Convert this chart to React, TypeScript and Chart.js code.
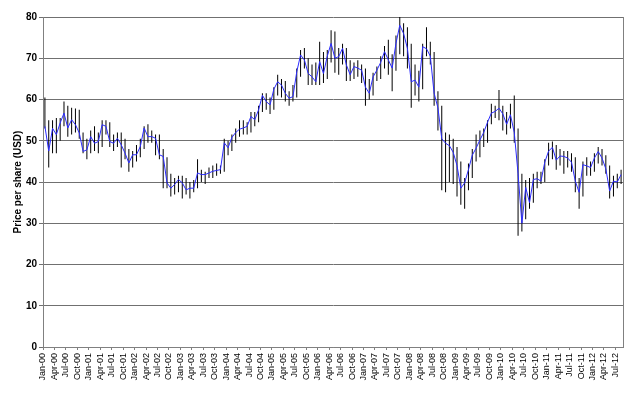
import React, { useEffect, useRef } from "react";
import { Chart, registerables } from "chart.js";

Chart.register(...registerables);

const tickLabels = [
  "Jan-00", "Apr-00", "Jul-00", "Oct-00",
  "Jan-01", "Apr-01", "Jul-01", "Oct-01",
  "Jan-02", "Apr-02", "Jul-02", "Oct-02",
  "Jan-03", "Apr-03", "Jul-03", "Oct-03",
  "Jan-04", "Apr-04", "Jul-04", "Oct-04",
  "Jan-05", "Apr-05", "Jul-05", "Oct-05",
  "Jan-06", "Apr-06", "Jul-06", "Oct-06",
  "Jan-07", "Apr-07", "Jul-07", "Oct-07",
  "Jan-08", "Apr-08", "Jul-08", "Oct-08",
  "Jan-09", "Apr-09", "Jul-09", "Oct-09",
  "Jan-10", "Apr-10", "Jul-10", "Oct-10",
  "Jan-11", "Apr-11", "Jul-11", "Oct-11",
  "Jan-12", "Apr-12", "Jul-12",
];

// Monthly values, Jan-00 .. Aug-12
const closePrices = [
  53.5, 47.5, 53, 51.5, 54.3, 56.7, 53.1, 55.1, 53.9, 51.9, 47.4, 47.8,
  51, 49.4, 49.8, 53.9, 53.5, 49.8, 49.4, 50.6, 49, 47, 44.6, 46.6,
  46.6, 48.6, 53.1, 51, 51, 50.6, 46.6, 46.2, 39.8, 38.5, 39.4, 40.6,
  39.8, 38.1, 38.5, 38.5, 42.2, 41.8, 41.8, 42.2, 42.6, 42.8, 43, 49.5,
  48.3, 50.8, 52, 52.8, 53.1, 53.5, 55.9, 55.1, 57.5, 61, 59.5, 58.7,
  62.5, 64.3, 63.5, 61.5, 60.3, 60.7, 66.7, 70.8, 69.6, 66.3, 65.5, 64.3,
  69.2, 66.3, 70.5, 73.6, 70, 70.4, 72.4, 68.4, 66, 68, 67.6, 67.1,
  63, 61.5, 65.5, 67.1, 69, 71.6, 69.6, 67.6, 73.6, 78, 76, 72.4,
  64.3, 64.7, 63, 72.8, 72.3, 70.5, 61.5, 58, 50.5, 49.4, 48.8, 47.2,
  44, 38.5, 39.8, 43, 46.5, 48.2, 50.2, 52, 54.5, 56.7, 57.1, 57.9,
  56.5, 54, 56.3, 52, 42, 30, 38.7, 35, 40.6, 40.8, 40.2, 44.8,
  47.5, 48.4, 45.3, 46.3, 46.2, 45.8, 44.8, 40.2, 37.5, 44.2, 43.9, 43.5,
  45.8, 47.4, 45.8, 43.2, 37.8, 40.2, 40, 41.8,
];

const highPrices = [
  60.5, 55, 55, 55.5, 55.5, 59.5, 58.5, 58, 57.8, 57.5, 52, 50.5,
  52.5, 53.5, 52, 55, 55, 54.5, 51.5, 52, 52, 50.5, 48, 47.5,
  49, 50.5, 53.5, 54, 52.5, 51.5, 51.5, 48, 46, 42, 41, 41.5,
  41.5, 41, 40, 40.5, 45.5, 43, 42.5, 43.5, 44, 44.5, 44, 50.5,
  50, 51.5, 53, 55, 55, 54.5, 57, 57, 58.5, 61.5, 61.5, 60.5,
  63, 66, 65, 64.5, 62, 63.5, 67.5, 72, 72.5, 70, 68.5, 69,
  74, 71.5, 72, 76.8, 76.5, 72.5, 73.5, 72.5, 69.5, 69, 69.5, 68.5,
  67.5, 65, 66.5, 68, 70.5, 73, 74.5, 71, 75.5, 80, 78.5, 77.5,
  73.5, 68.5, 67, 73.5, 77.5, 74, 71.5, 62, 58.5, 52, 51.5, 50.5,
  48.5, 45, 41, 44.5, 48, 51.5, 52.5, 53, 55, 59, 58.5, 62.3,
  58.5, 57, 59, 61, 53, 42, 40.5, 41, 42, 42.5, 42.5, 45.5,
  49.5, 49.8, 49, 48, 47.5, 47.5, 47, 46, 41, 45, 46, 45,
  47, 48.5, 48, 46.5, 44, 41.5, 42, 43,
];

const lowPrices = [
  53, 43.5, 47, 47, 50, 53.5, 51, 51.5, 52, 50.5, 47, 45.5,
  47, 47.5, 47, 48.5, 51.5, 48.5, 47.5, 48.5, 43.5, 45.5, 42.5, 43.5,
  45, 46, 48, 49.5, 49.5, 46.5, 45.5, 38.5, 38.5, 36.5, 37, 37.5,
  36, 37, 36, 37.5, 38.5, 40, 39.5, 41, 41, 41.5, 42, 42.5,
  46.5, 47.5, 49.5, 51, 51.5, 51.5, 52, 53.5, 54.5, 57, 57.5, 56.5,
  57.5, 61, 60.5, 59.5, 58.5, 59.5, 60.5, 65.5, 67.5, 63.5, 63.5, 63.5,
  63.5, 64, 65, 69, 66.5, 66, 68.5, 64.5, 64.5, 65, 65.5, 64,
  58.5, 60, 61, 64.5, 65, 67.5, 66, 62, 67, 71, 70.5, 67.5,
  58, 61, 59.5, 62.5, 70.5, 68.5, 58.5, 52.5, 38, 37.5, 40, 39.5,
  36.5, 34.5, 33.5, 38, 41, 45, 46, 48.5, 49.5, 54, 55.5, 55,
  52.5, 51.5, 53, 49.5, 27, 28, 31, 33.5, 35, 38.5, 39.5, 40,
  44, 45.5, 43, 44, 42, 43.5, 42.5, 37.5, 33.5, 36.5, 41.5, 41.5,
  42.5, 44.5, 44, 42, 36, 36.5, 38.5, 39.5,
];

const FONT = 'Arial, "Liberation Sans", sans-serif';

const framePlugin = {
  id: "frame",
  beforeDatasetsDraw(chart: any) {
    const { ctx, chartArea: a } = chart;
    ctx.save();
    ctx.strokeStyle = "#808080";
    ctx.lineWidth = 1;
    const x = Math.round(a.right) + 0.5;
    ctx.beginPath();
    ctx.moveTo(x, a.top);
    ctx.lineTo(x, a.bottom);
    ctx.stroke();
    ctx.restore();
  },
};

export default function App() {
  const ref = useRef<HTMLCanvasElement>(null);

  useEffect(() => {
    const canvas = ref.current;
    if (!canvas) return;
    const chart = new Chart(canvas, {
      type: "bar",
      data: {
        datasets: [
          {
            type: "line",
            label: "Close",
            data: closePrices.map((v, i) => ({ x: i + 0.5, y: v })),
            borderColor: "#2b2bff",
            borderWidth: 1,
            pointRadius: 0,
            tension: 0,
            fill: false,
            order: 0,
          } as any,
          {
            type: "bar",
            label: "High-Low",
            data: highPrices.map((h, i) => ({ x: i + 0.5, y: [lowPrices[i], h] })),
            backgroundColor: "#000000",
            borderWidth: 0,
            barThickness: 1,
            inflateAmount: 0,
            order: 1,
          } as any,
        ],
      },
      options: {
        responsive: false,
        animation: false,
        devicePixelRatio: 1,
        layout: { padding: { top: 17, right: 17, left: 0, bottom: 0 } },
        plugins: {
          legend: { display: false },
          tooltip: { enabled: false },
        },
        scales: {
          x: {
            type: "linear",
            min: 0,
            max: 152,
            offset: false,
            grid: {
              offset: false,
              drawOnChartArea: false,
              drawTicks: true,
              tickLength: 3,
              color: "#808080",
            },
            border: { color: "#808080", width: 1 },
            afterBuildTicks: (s: any) => {
              s.ticks = tickLabels.map((_, i) => ({ value: i * 3 }));
            },
            afterFit: (s: any) => {
              s.height = 46;
            },
            ticks: {
              autoSkip: false,
              minRotation: 90,
              maxRotation: 90,
              padding: 3,
              color: "#000",
              font: { family: FONT, size: 9 },
              callback: (_v: any, i: number) => tickLabels[i],
            },
          },
          y: {
            type: "linear",
            min: 0,
            max: 80,
            grid: { color: "#707070", tickLength: 4 },
            border: { color: "#808080", width: 1 },
            afterFit: (s: any) => {
              s.width = 43;
            },
            ticks: {
              stepSize: 10,
              padding: 2,
              color: "#000",
              font: { family: FONT, size: 10, weight: "bold" },
            },
            title: {
              display: true,
              text: "Price per share (USD)",
              color: "#000",
              font: { family: FONT, size: 10, weight: "bold" },
              padding: { top: 12, bottom: 0 },
            },
          },
        },
      } as any,
      plugins: [framePlugin],
    });
    return () => chart.destroy();
  }, []);

  return (
    <div
      style={{
        position: "absolute",
        left: 0,
        top: 0,
        width: 640,
        height: 393,
        background: "#fff",
      }}
    >
      <canvas ref={ref} width={640} height={393} style={{ display: "block" }} />
    </div>
  );
}
